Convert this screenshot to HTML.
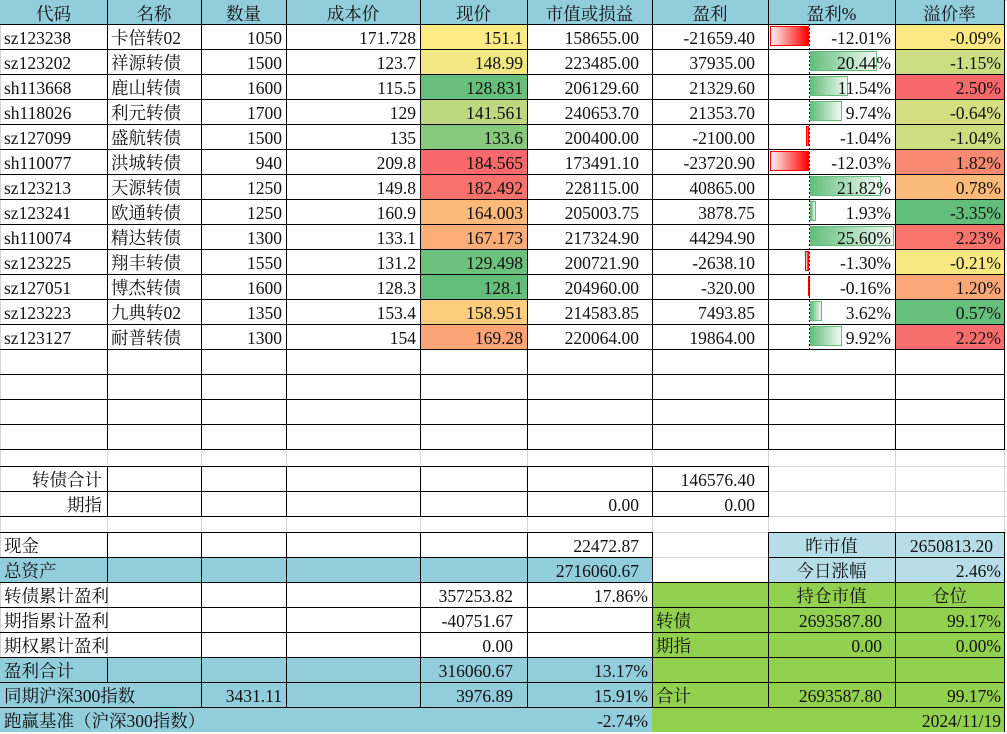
<!DOCTYPE html>
<html><head><meta charset="utf-8">
<style>
html,body{margin:0;padding:0;background:#fff;}
body{width:1007px;height:732px;position:relative;overflow:hidden;font-family:"Liberation Serif","Noto Serif CJK SC",serif;font-size:17.5px;color:#111;}
.row{position:absolute;left:0;width:1007px;height:25px;}
.row>div{position:absolute;top:0;height:100%;box-sizing:border-box;padding-top:2px;line-height:25px;white-space:nowrap;overflow:visible;}
.A{left:0;width:107px}.B{left:107px;width:94px}.C{left:201px;width:85px}.D{left:286px;width:134px}
.E{left:420px;width:107px}.F{left:527px;width:125px}.G{left:652px;width:116px}.H{left:768px;width:127px}.I{left:895px;width:109px}
.l{text-align:left;padding-left:4px}.r{text-align:right;padding-right:4px}.r3{text-align:right;padding-right:3px}
.r13{text-align:right;padding-right:13px}.r14{text-align:right;padding-right:14px}.ctr{text-align:center}
.hd{background:#92cddc}.tl{background:#92cddc}.lb{background:#b7dee8}.gr{background:#92d050}
.row>div.bar{top:2px;height:20px;padding:0;}
.pos{background:linear-gradient(to right,#63be7b,#f2faf4);border:1px solid #63be7b}
.neg{background:linear-gradient(to right,#fff2f2,#ff0000);border:1px solid #ff0000}
.gh{position:absolute;left:0;width:1007px;height:1px;background:#d4d4d4}
.gv{position:absolute;top:0;height:732px;width:1px;background:#d4d4d4}
.bh{position:absolute;height:1px;background:#000}
.bv{position:absolute;width:1px;background:#000}
.axis{position:absolute;left:809px;top:24px;width:1px;height:325px;background:repeating-linear-gradient(to bottom,#000 0 2px,transparent 2px 4px)}
</style></head><body>

<!-- gray gridlines -->
<div class="gh" style="top:0"></div>
<div class="gh" style="top:449px"></div><div class="gh" style="top:466px"></div><div class="gh" style="top:491px"></div>
<div class="gh" style="top:516px"></div><div class="gh" style="top:532px"></div><div class="gh" style="top:557px"></div><div class="gh" style="top:582px"></div>
<div class="gv" style="left:0"></div><div class="gv" style="left:107px"></div><div class="gv" style="left:201px"></div><div class="gv" style="left:286px"></div>
<div class="gv" style="left:420px"></div><div class="gv" style="left:527px"></div><div class="gv" style="left:652px"></div><div class="gv" style="left:768px"></div>
<div class="gv" style="left:895px"></div><div class="gv" style="left:1004px"></div>

<!-- header -->
<div class="row" style="top:0;height:24px">
<div class="A hd ctr">代码</div><div class="B hd ctr">名称</div><div class="C hd ctr">数量</div><div class="D hd ctr">成本价</div><div class="E hd ctr">现价</div><div class="F hd ctr">市值或损益</div><div class="G hd ctr">盈利</div><div class="H hd ctr">盈利%</div><div class="I hd ctr">溢价率</div>
</div>

<div class="row" style="top:24px"><div class="A l">sz123238</div><div class="B l">卡倍转02</div><div class="C r">1050</div><div class="D r">171.728</div><div class="E r" style="background:#ffeb84">151.1</div><div class="F r13">158655.00</div><div class="G r13">-21659.40</div><div class="bar neg" style="left:770px;width:39px"></div><div class="H r">-12.01%</div><div class="I r3" style="background:#fde983">-0.09%</div></div>

<div class="row" style="top:49px"><div class="A l">sz123202</div><div class="B l">祥源转债</div><div class="C r">1500</div><div class="D r">123.7</div><div class="E r" style="background:#f1e783">148.99</div><div class="F r13">223485.00</div><div class="G r13">37935.00</div><div class="bar pos" style="left:810px;width:67px"></div><div class="H r">20.44%</div><div class="I r3" style="background:#cddd82">-1.15%</div></div>

<div class="row" style="top:74px"><div class="A l">sh113668</div><div class="B l">鹿山转债</div><div class="C r">1600</div><div class="D r">115.5</div><div class="E r" style="background:#68bf7b">128.831</div><div class="F r13">206129.60</div><div class="G r13">21329.60</div><div class="bar pos" style="left:810px;width:38px"></div><div class="H r">11.54%</div><div class="I r3" style="background:#f8696b">2.50%</div></div>

<div class="row" style="top:99px"><div class="A l">sh118026</div><div class="B l">利元转债</div><div class="C r">1700</div><div class="D r">129</div><div class="E r" style="background:#bed880">141.561</div><div class="F r13">240653.70</div><div class="G r13">21353.70</div><div class="bar pos" style="left:810px;width:32px"></div><div class="H r">9.74%</div><div class="I r3" style="background:#d5df82">-0.64%</div></div>

<div class="row" style="top:124px"><div class="A l">sz127099</div><div class="B l">盛航转债</div><div class="C r">1500</div><div class="D r">135</div><div class="E r" style="background:#88c97d">133.6</div><div class="F r13">200400.00</div><div class="G r13">-2100.00</div><div class="bar neg" style="left:806px;width:3px"></div><div class="H r">-1.04%</div><div class="I r3" style="background:#cedd82">-1.04%</div></div>

<div class="row" style="top:149px"><div class="A l">sh110077</div><div class="B l">洪城转债</div><div class="C r">940</div><div class="D r">209.8</div><div class="E r" style="background:#f8696b">184.565</div><div class="F r13">173491.10</div><div class="G r13">-23720.90</div><div class="bar neg" style="left:770px;width:39px"></div><div class="H r">-12.03%</div><div class="I r3" style="background:#f98970">1.82%</div></div>

<div class="row" style="top:174px"><div class="A l">sz123213</div><div class="B l">天源转债</div><div class="C r">1250</div><div class="D r">149.8</div><div class="E r" style="background:#f8716d">182.492</div><div class="F r13">228115.00</div><div class="G r13">40865.00</div><div class="bar pos" style="left:810px;width:71px"></div><div class="H r">21.82%</div><div class="I r3" style="background:#fdbb7b">0.78%</div></div>

<div class="row" style="top:199px"><div class="A l">sz123241</div><div class="B l">欧通转债</div><div class="C r">1250</div><div class="D r">160.9</div><div class="E r" style="background:#fcb97a">164.003</div><div class="F r13">205003.75</div><div class="G r13">3878.75</div><div class="bar pos" style="left:810px;width:6px"></div><div class="H r">1.93%</div><div class="I r3" style="background:#63be7b">-3.35%</div></div>

<div class="row" style="top:224px"><div class="A l">sh110074</div><div class="B l">精达转债</div><div class="C r">1300</div><div class="D r">133.1</div><div class="E r" style="background:#fcad78">167.173</div><div class="F r13">217324.90</div><div class="G r13">44294.90</div><div class="bar pos" style="left:810px;width:84px"></div><div class="H r">25.60%</div><div class="I r3" style="background:#f8746d">2.23%</div></div>

<div class="row" style="top:249px"><div class="A l">sz123225</div><div class="B l">翔丰转债</div><div class="C r">1550</div><div class="D r">131.2</div><div class="E r" style="background:#6cc17c">129.498</div><div class="F r13">200721.90</div><div class="G r13">-2638.10</div><div class="bar neg" style="left:805px;width:4px"></div><div class="H r">-1.30%</div><div class="I r3" style="background:#fae883">-0.21%</div></div>

<div class="row" style="top:274px"><div class="A l">sz127051</div><div class="B l">博杰转债</div><div class="C r">1600</div><div class="D r">128.3</div><div class="E r" style="background:#63be7b">128.1</div><div class="F r13">204960.00</div><div class="G r13">-320.00</div><div class="bar neg" style="left:808px;width:1px"></div><div class="H r">-0.16%</div><div class="I r3" style="background:#fca777">1.20%</div></div>

<div class="row" style="top:299px"><div class="A l">sz123223</div><div class="B l">九典转02</div><div class="C r">1350</div><div class="D r">153.4</div><div class="E r" style="background:#fdcd7e">158.951</div><div class="F r13">214583.85</div><div class="G r13">7493.85</div><div class="bar pos" style="left:810px;width:12px"></div><div class="H r">3.62%</div><div class="I r3" style="background:#67bf7c">0.57%</div></div>

<div class="row" style="top:324px"><div class="A l">sz123127</div><div class="B l">耐普转债</div><div class="C r">1300</div><div class="D r">154</div><div class="E r" style="background:#fba476">169.28</div><div class="F r13">220064.00</div><div class="G r13">19864.00</div><div class="bar pos" style="left:810px;width:32px"></div><div class="H r">9.92%</div><div class="I r3" style="background:#f86e6c">2.22%</div></div>

<div class="axis"></div>

<!-- totals -->
<div class="row" style="top:466px"><div class="A r" style="padding-right:5px">转债合计</div><div class="G r13">146576.40</div></div>
<div class="row" style="top:491px"><div class="A r" style="padding-right:5px">期指</div><div class="F r13">0.00</div><div class="G r13">0.00</div></div>

<!-- bottom section -->
<div class="row" style="top:532px"><div class="A l">现金</div><div class="F r13">22472.87</div><div class="H lb ctr">昨市值</div><div class="I lb" style="text-align:right;padding-right:11px">2650813.20</div></div>
<div class="row" style="top:557px"><div class="tl" style="left:0;width:652px"></div><div class="A l">总资产</div><div class="F r13">2716060.67</div><div class="H lb ctr">今日涨幅</div><div class="I lb r3">2.46%</div></div>
<div class="row" style="top:582px"><div class="gr" style="left:652px;width:353px"></div><div class="l" style="left:0;width:201px">转债累计盈利</div><div class="E r14">357253.82</div><div class="F r">17.86%</div><div class="H ctr">持仓市值</div><div class="I ctr">仓位</div></div>
<div class="row" style="top:607px"><div class="gr" style="left:652px;width:353px"></div><div class="l" style="left:0;width:201px">期指累计盈利</div><div class="E r14">-40751.67</div><div class="G l">转债</div><div class="H r13">2693587.80</div><div class="I r3">99.17%</div></div>
<div class="row" style="top:632px"><div class="gr" style="left:652px;width:353px"></div><div class="l" style="left:0;width:201px">期权累计盈利</div><div class="E r14">0.00</div><div class="G l">期指</div><div class="H r13">0.00</div><div class="I r3">0.00%</div></div>
<div class="row" style="top:657px"><div class="tl" style="left:0;width:652px"></div><div class="gr" style="left:652px;width:353px"></div><div class="A l">盈利合计</div><div class="E r14">316060.67</div><div class="F r">13.17%</div></div>
<div class="row" style="top:682px"><div class="tl" style="left:0;width:652px"></div><div class="gr" style="left:652px;width:353px"></div><div class="l" style="left:0;width:201px">同期沪深300指数</div><div class="C r">3431.11</div><div class="E r14">3976.89</div><div class="F r">15.91%</div><div class="G l">合计</div><div class="H r13">2693587.80</div><div class="I r3">99.17%</div></div>
<div class="row" style="top:707px"><div class="tl" style="left:0;width:652px"></div><div class="gr" style="left:652px;width:353px"></div><div class="l" style="left:0;width:400px">跑赢基准（沪深300指数）</div><div class="F r">-2.74%</div><div class="I r3">2024/11/19</div></div>

<!-- black borders: top block -->
<div class="bh" style="left:0;width:1005px;top:24px"></div><div class="bh" style="left:0;width:1005px;top:49px"></div>
<div class="bh" style="left:0;width:1005px;top:74px"></div><div class="bh" style="left:0;width:1005px;top:99px"></div>
<div class="bh" style="left:0;width:1005px;top:124px"></div><div class="bh" style="left:0;width:1005px;top:149px"></div>
<div class="bh" style="left:0;width:1005px;top:174px"></div><div class="bh" style="left:0;width:1005px;top:199px"></div>
<div class="bh" style="left:0;width:1005px;top:224px"></div><div class="bh" style="left:0;width:1005px;top:249px"></div>
<div class="bh" style="left:0;width:1005px;top:274px"></div><div class="bh" style="left:0;width:1005px;top:299px"></div>
<div class="bh" style="left:0;width:1005px;top:324px"></div><div class="bh" style="left:0;width:1005px;top:349px"></div>
<div class="bh" style="left:0;width:1005px;top:374px"></div><div class="bh" style="left:0;width:1005px;top:399px"></div>
<div class="bh" style="left:0;width:1005px;top:424px"></div><div class="bh" style="left:0;width:1005px;top:449px"></div>
<div class="bv" style="left:107px;top:0;height:450px"></div><div class="bv" style="left:201px;top:0;height:450px"></div>
<div class="bv" style="left:286px;top:0;height:450px"></div><div class="bv" style="left:420px;top:0;height:450px"></div>
<div class="bv" style="left:527px;top:0;height:450px"></div><div class="bv" style="left:652px;top:0;height:450px"></div>
<div class="bv" style="left:768px;top:0;height:450px"></div><div class="bv" style="left:895px;top:0;height:450px"></div>
<div class="bv" style="left:1004px;top:0;height:450px"></div>

<!-- totals block -->
<div class="bh" style="left:0;width:769px;top:466px"></div><div class="bh" style="left:0;width:769px;top:491px"></div><div class="bh" style="left:0;width:769px;top:516px"></div>
<div class="bv" style="left:107px;top:466px;height:51px"></div><div class="bv" style="left:201px;top:466px;height:51px"></div>
<div class="bv" style="left:286px;top:466px;height:51px"></div><div class="bv" style="left:420px;top:466px;height:51px"></div>
<div class="bv" style="left:527px;top:466px;height:51px"></div><div class="bv" style="left:652px;top:466px;height:51px"></div>
<div class="bv" style="left:768px;top:466px;height:51px"></div>

<!-- bottom block -->
<div class="bh" style="left:0;width:653px;top:532px"></div><div class="bh" style="left:768px;width:237px;top:532px"></div>
<div class="bh" style="left:0;width:653px;top:557px"></div><div class="bh" style="left:768px;width:237px;top:557px"></div>
<div class="bh" style="left:0;width:1005px;top:582px"></div><div class="bh" style="left:0;width:1005px;top:607px"></div>
<div class="bh" style="left:0;width:1005px;top:632px"></div><div class="bh" style="left:0;width:1005px;top:657px"></div>
<div class="bh" style="left:0;width:1005px;top:682px"></div><div class="bh" style="left:0;width:1005px;top:707px"></div>
<div class="bv" style="left:107px;top:532px;height:51px"></div><div class="bv" style="left:107px;top:657px;height:26px"></div>
<div class="bv" style="left:201px;top:532px;height:176px"></div><div class="bv" style="left:286px;top:532px;height:176px"></div>
<div class="bv" style="left:420px;top:532px;height:176px"></div><div class="bv" style="left:527px;top:532px;height:176px"></div>
<div class="bv" style="left:652px;top:532px;height:176px"></div><div class="bv" style="left:768px;top:532px;height:176px"></div>
<div class="bv" style="left:895px;top:532px;height:176px"></div><div class="bv" style="left:1004px;top:532px;height:200px"></div>

</body></html>
